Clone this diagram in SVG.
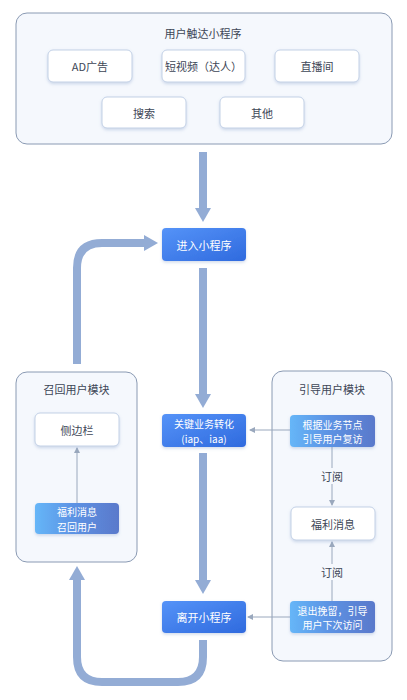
<svg xmlns="http://www.w3.org/2000/svg" width="407" height="700" viewBox="0 0 407 700">
<defs>
<style>
text{font-family:"Noto Sans CJK SC","Noto Sans",sans-serif;font-size:11px;text-anchor:middle;dominant-baseline:central}
text.s{font-size:10px}
.cont{fill:#f5f8fd;stroke:#8a9ab3;stroke-width:1}
.wbox{fill:#ffffff;stroke:#c3d1e6;stroke-width:1}
.t{fill:#3d4656}
.tw{fill:#ffffff}
.thick{fill:none;stroke:#93acd5;stroke-width:8}
.thin{fill:none;stroke:#9aa8bd;stroke-width:1}
</style>
<linearGradient id="gBlue" x1="0" y1="0" x2="1" y2="1">
<stop offset="0" stop-color="#5593f8"/>
<stop offset="1" stop-color="#2f6ade"/>
</linearGradient>
<linearGradient id="gLight" x1="0" y1="0" x2="1" y2="0">
<stop offset="0" stop-color="#66b6f8"/>
<stop offset="0.45" stop-color="#5c93e4"/>
<stop offset="1" stop-color="#5a79cb"/>
</linearGradient>
<filter id="sh" x="-20%" y="-20%" width="140%" height="150%">
<feDropShadow dx="0" dy="1.5" stdDeviation="1.5" flood-color="#7a95c4" flood-opacity="0.35"/>
</filter>
<marker id="ah" viewBox="0 0 6 6" refX="5" refY="3" markerWidth="6" markerHeight="6" markerUnits="userSpaceOnUse" orient="auto">
<path d="M0,0 L6,3 L0,6 z" fill="#9aa8bd"/>
</marker>
</defs>

<g id="touch-group">
<rect class="cont" x="16" y="13" width="376" height="131" rx="11"/>
<text class="t" x="203" y="33">用户触达小程序</text>
</g>
<g id="ad"><rect class="wbox" filter="url(#sh)" x="48" y="50" width="84" height="32" rx="5"/><text class="t" x="90" y="66">AD广告</text></g>
<g id="short-video"><rect class="wbox" filter="url(#sh)" x="162" y="50" width="83" height="32" rx="5"/><text class="t" x="203.5" y="66">短视频（达人）</text></g>
<g id="live"><rect class="wbox" filter="url(#sh)" x="275" y="50" width="84" height="32" rx="5"/><text class="t" x="317" y="66">直播间</text></g>
<g id="search"><rect class="wbox" filter="url(#sh)" x="102" y="97" width="84" height="31" rx="5"/><text class="t" x="144" y="112.5">搜索</text></g>
<g id="other"><rect class="wbox" filter="url(#sh)" x="220" y="97" width="84" height="31" rx="5"/><text class="t" x="262" y="112.5">其他</text></g>

<g id="recall-module">
<rect class="cont" x="16" y="372" width="121" height="190" rx="11"/>
<text class="t" x="76.5" y="389">召回用户模块</text>
</g>
<g id="guide-module">
<rect class="cont" x="272" y="371" width="120" height="290" rx="11"/>
<text class="t" x="332" y="389">引导用户模块</text>
</g>

<g id="connectors">
<path class="thick" d="M203,152 V210"/>
<path d="M195,208 L211,208 L203,222 z" fill="#93acd5"/>
<path class="thick" d="M203,268 V396"/>
<path d="M195,394 L211,394 L203,408 z" fill="#93acd5"/>
<path class="thick" d="M203,453 V582"/>
<path d="M195,580 L211,580 L203,594 z" fill="#93acd5"/>
<path class="thick" d="M203,640 V657 Q203,682 178,682 H102 Q77,682 77,657 V578"/>
<path d="M69,580 L85,580 L77,566 z" fill="#93acd5"/>
<path class="thick" d="M77,364 V268 Q77,243 102,243 H146"/>
<path d="M144,235 L144,251 L158,243 z" fill="#93acd5"/>
<path class="thin" marker-end="url(#ah)" d="M77,503 V448"/>
<path class="thin" marker-end="url(#ah)" d="M290,430 H250"/>
<path class="thin" marker-end="url(#ah)" d="M290,617 H248"/>
<path class="thin" d="M332,447 V468"/>
<path class="thin" marker-end="url(#ah)" d="M332,484 V505"/>
<path class="thin" d="M332,601 V580"/>
<path class="thin" marker-end="url(#ah)" d="M332,564 V542"/>
<text class="t" x="332" y="476">订阅</text>
<text class="t" x="332" y="572">订阅</text>
</g>

<g id="enter"><rect fill="url(#gBlue)" filter="url(#sh)" x="162" y="228" width="84" height="33" rx="4"/><text class="tw" x="204" y="244.5">进入小程序</text></g>
<g id="convert"><rect fill="url(#gBlue)" filter="url(#sh)" x="162" y="414" width="84" height="33" rx="4"/><text class="tw s"><tspan x="204" y="423.2">关键业务转化</tspan><tspan x="204" dy="14.6">(iap、iaa)</tspan></text></g>
<g id="leave"><rect fill="url(#gBlue)" filter="url(#sh)" x="162" y="601" width="84" height="32" rx="4"/><text class="tw" x="204" y="617">离开小程序</text></g>

<g id="sidebar"><rect class="wbox" filter="url(#sh)" x="35" y="413" width="84" height="33" rx="5"/><text class="t" x="77" y="429.5">侧边栏</text></g>
<g id="recall-msg"><rect fill="url(#gLight)" filter="url(#sh)" x="35" y="503" width="84" height="31" rx="4"/><text class="tw s"><tspan x="77" y="511.2">福利消息</tspan><tspan x="77" dy="14.6">召回用户</tspan></text></g>

<g id="guide-revisit"><rect fill="url(#gLight)" filter="url(#sh)" x="290" y="415" width="85" height="32" rx="4"/><text class="tw s"><tspan x="332.5" y="423.7">根据业务节点</tspan><tspan x="332.5" dy="14.6">引导用户复访</tspan></text></g>
<g id="benefit-msg"><rect class="wbox" filter="url(#sh)" x="291" y="507" width="84" height="33" rx="5"/><text class="t" x="333" y="523.5">福利消息</text></g>
<g id="exit-retain"><rect fill="url(#gLight)" filter="url(#sh)" x="290" y="601" width="85" height="32" rx="4"/><text class="tw s"><tspan x="332.5" y="609.7">退出挽留，引导</tspan><tspan x="332.5" dy="14.6">用户下次访问</tspan></text></g>
</svg>
